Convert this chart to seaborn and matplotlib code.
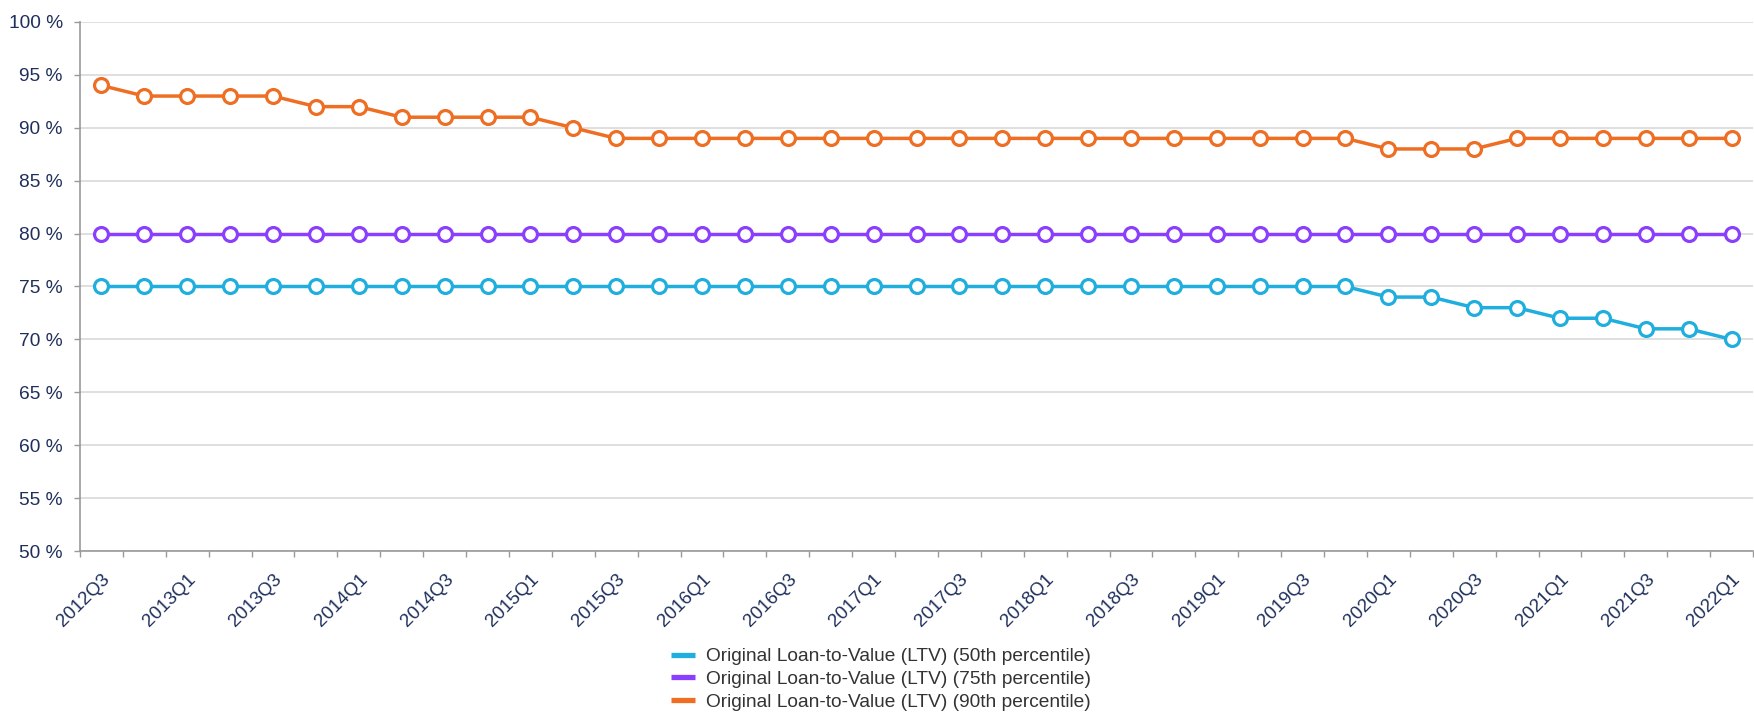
import numpy as np
import pandas as pd
import matplotlib
matplotlib.use("Agg")
import matplotlib.pyplot as plt
import seaborn as sns
from matplotlib.ticker import FixedLocator, FuncFormatter
from matplotlib.lines import Line2D

quarters = []
for y in range(2012, 2023):
    for q in range(1, 5):
        quarters.append(f"{y}Q{q}")
quarters = quarters[quarters.index("2012Q3"):quarters.index("2022Q1") + 1]

p50 = [75] * 30 + [74, 74, 73, 73, 72, 72, 71, 71, 70]
p75 = [80] * 39
p90 = [94, 93, 93, 93, 93, 92, 92, 91, 91, 91, 91, 90] + [89] * 18 + [88, 88, 88] + [89] * 6

series_names = [
    "Original Loan-to-Value (LTV) (50th percentile)",
    "Original Loan-to-Value (LTV) (75th percentile)",
    "Original Loan-to-Value (LTV) (90th percentile)",
]
colors = ["#1FAEDD", "#8A3FFC", "#EE6E23"]

rows = []
for name, vals in zip(series_names, [p50, p75, p90]):
    for i, v in enumerate(vals):
        rows.append({"idx": i, "value": v, "series": name})
df = pd.DataFrame(rows)

sns.set_theme(style="white")
plt.rcParams["font.family"] = ["Liberation Sans", "DejaVu Sans"]

fig = plt.figure(figsize=(17.54, 7.19), dpi=100)
# axes: x 80..1753 px, y 22..551 px
ax = fig.add_axes([80 / 1754, 1 - 551 / 719, 1673 / 1754, 529 / 719])

sns.lineplot(data=df, x="idx", y="value", hue="series", palette=colors,
             hue_order=series_names, marker="o", markersize=10,
             markerfacecolor="white", markeredgewidth=2.3, linewidth=2.5,
             ax=ax, legend=False)
for line, c in zip(ax.lines, colors):
    line.set_markeredgecolor(c)

ax.set_xlim(-0.5, len(quarters) - 0.5)
ax.set_ylim(50, 100)
ax.set_yticks(np.arange(50, 101, 5))
ax.yaxis.set_major_formatter(FuncFormatter(lambda v, p: f"{int(v)} %"))
ax.grid(axis="y", color="#D9D9D9", linewidth=1.2)
ax.set_axisbelow(True)

major = list(range(0, len(quarters), 2))
ax.set_xticks(major)
ax.set_xticklabels([quarters[i] for i in major], rotation=45, ha="right",
                   rotation_mode="anchor")
ax.xaxis.set_minor_locator(FixedLocator(np.arange(-0.5, len(quarters), 1)))
ax.tick_params(axis="x", which="major", length=0, pad=14, labelsize=13.5,
               labelcolor="#1F2F5C")
ax.tick_params(axis="x", which="minor", length=4.5, width=1, color="#999999",
               bottom=True)
ax.tick_params(axis="y", which="major", length=4.5, width=1, color="#999999",
               left=True, labelsize=13.8, labelcolor="#1F2F5C", pad=8)
ax.set_xlabel("")
ax.set_ylabel("")

for s in ["top", "right"]:
    ax.spines[s].set_visible(False)
for s in ["left", "bottom"]:
    ax.spines[s].set_color("#999999")
    ax.spines[s].set_linewidth(1.2)

handles = [Line2D([0], [0], color=c, linewidth=3.8, solid_capstyle="butt")
           for c in colors]
fig.legend(handles, series_names, loc="upper left",
           bbox_to_anchor=(671 / 1754, 1 - 648 / 719), frameon=False,
           fontsize=13.8, handlelength=1.25, handletextpad=0.55,
           labelspacing=0.28, labelcolor="#333333",
           borderaxespad=0, borderpad=0)

fig.savefig("out.png", dpi=100)
